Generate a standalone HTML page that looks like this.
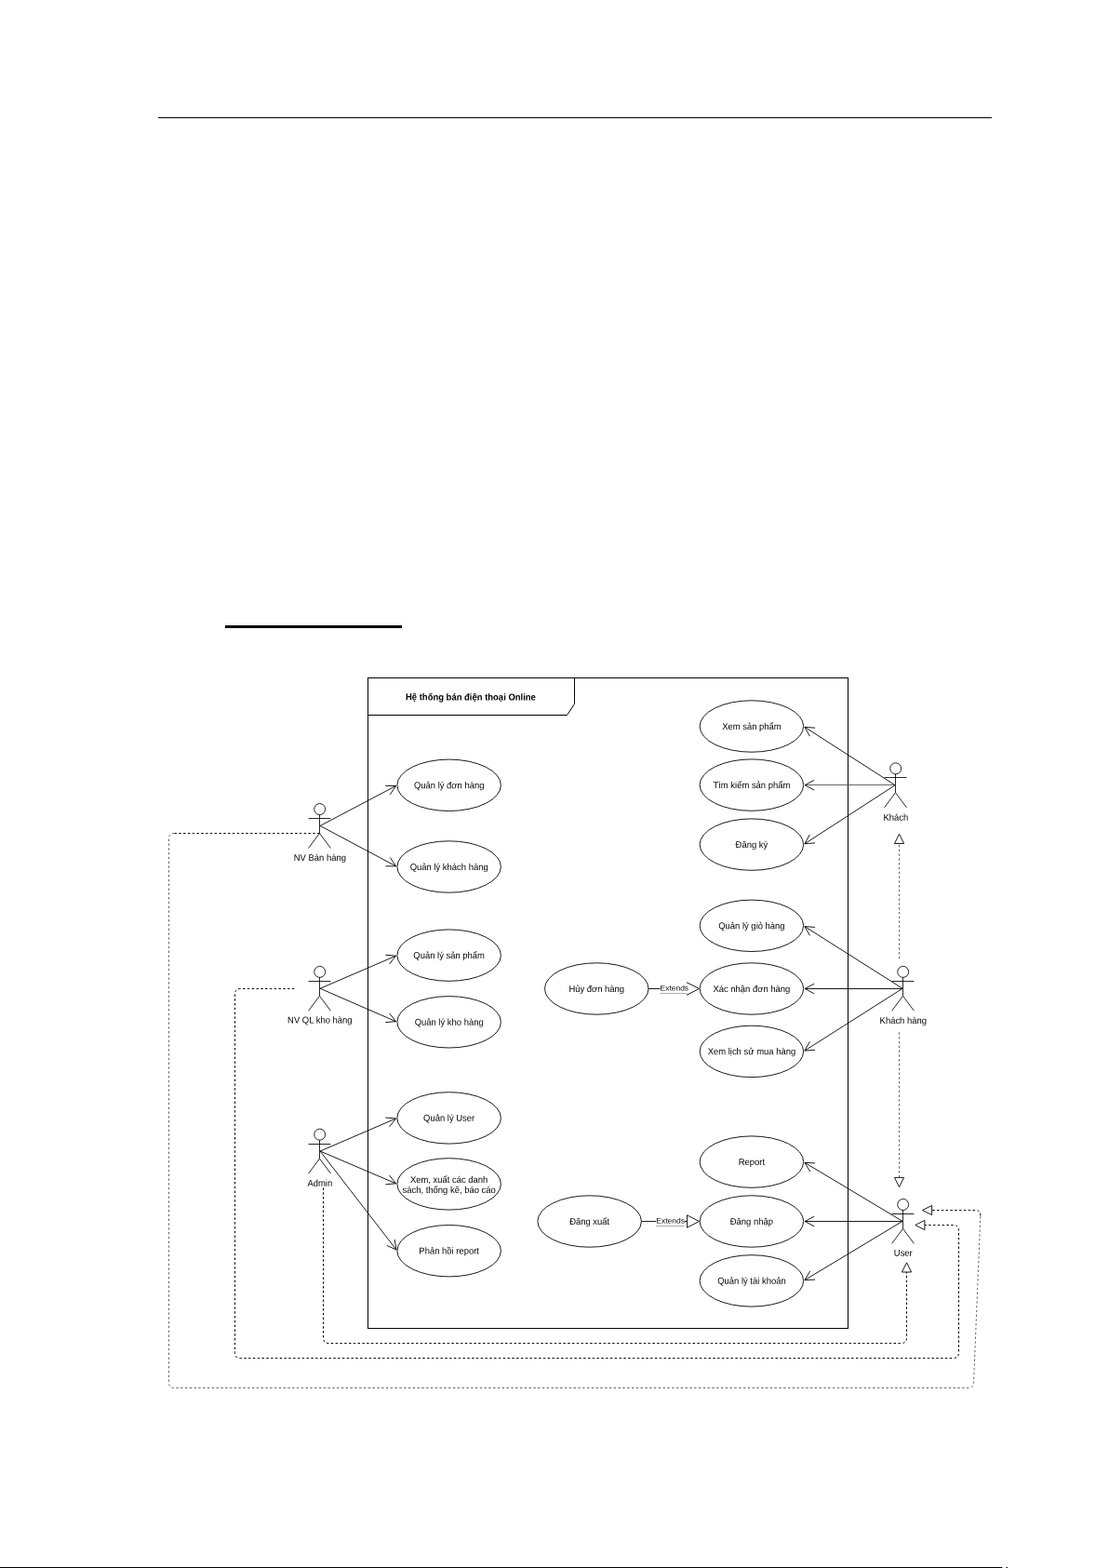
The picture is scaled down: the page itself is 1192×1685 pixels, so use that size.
<!DOCTYPE html>
<html lang="vi">
<head>
<meta charset="utf-8">
<title>Use case - Hệ thống bán điện thoại Online</title>
<style>
html,body{margin:0;padding:0;background:#fff;}
body{width:1192px;height:1685px;position:relative;overflow:hidden;font-family:"Liberation Sans",sans-serif;}
.hr{position:absolute;left:170px;top:126px;width:896px;height:1px;background:#000;}
.ul{position:absolute;left:242px;top:672px;width:190px;height:3px;background:#000;}
.ft{position:absolute;left:0;top:1684px;width:1077px;height:1px;background:#000;}
.px{position:absolute;top:1684px;width:1px;height:1px;}
svg{position:absolute;left:0;top:0;will-change:transform;}
.ln{fill:none;stroke:#000;stroke-width:0.9;stroke-linejoin:miter;stroke-miterlimit:10;}
.fr{stroke-width:1;}
.g{stroke:#555;}
.ac{fill:none;stroke:#000;stroke-width:0.85;}
.w{fill:#fff;}
.gl{fill:none;stroke:#999;stroke-width:0.8;}
.ds{fill:none;stroke:#000;stroke-width:1;stroke-dasharray:2.4 2.4;}
.lt{stroke-width:0.9;stroke:#555;}
.t{font-family:"Liberation Sans",sans-serif;font-size:10.0px;fill:#000;text-anchor:middle;}
.b{font-weight:bold;font-size:10.2px;}
.s{font-size:8.0px;}
</style>
</head>
<body>
<div class="hr"></div>
<div class="ul"></div>
<svg width="1192" height="1685" viewBox="0 0 1192 1685">
<rect x="395.5" y="728.5" width="516" height="699" class="ln fr" />
<path d="M617.5 728.5 L617.5 756.5 L609.5 768.5 L395.5 768.5" class="ln fr" />
<text transform="translate(505.9 752.4) rotate(0.03) scale(0.93 1)" class="t b">Hệ thống bán điện thoại Online</text>
<ellipse cx="482.65" cy="843.8" rx="55.75" ry="27.7" class="ln w" />
<text transform="translate(482.65 847.2) rotate(0.03) scale(0.945 1)" class="t">Quản lý đơn hàng</text>
<ellipse cx="482.65" cy="931.5" rx="55.75" ry="27.7" class="ln w" />
<text transform="translate(482.65 934.9) rotate(0.03) scale(0.945 1)" class="t">Quản lý khách hàng</text>
<ellipse cx="482.65" cy="1026.6" rx="55.75" ry="27.7" class="ln w" />
<text transform="translate(482.65 1030) rotate(0.03) scale(0.945 1)" class="t">Quản lý sản phẩm</text>
<ellipse cx="482.65" cy="1098.3" rx="55.75" ry="27.7" class="ln w" />
<text transform="translate(482.65 1101.7) rotate(0.03) scale(0.945 1)" class="t">Quản lý kho hàng</text>
<ellipse cx="482.65" cy="1201.4" rx="55.75" ry="27.7" class="ln w" />
<text transform="translate(482.65 1204.8) rotate(0.03) scale(0.945 1)" class="t">Quản lý User</text>
<ellipse cx="482.65" cy="1272.4" rx="55.75" ry="27.7" class="ln w" />
<text transform="translate(482.65 1270.9) rotate(0.03) scale(0.945 1)" class="t">Xem, xuất các danh</text>
<text transform="translate(482.65 1282) rotate(0.03) scale(0.945 1)" class="t">sách, thống kê, báo cáo</text>
<ellipse cx="482.65" cy="1344.2" rx="55.75" ry="27.7" class="ln w" />
<text transform="translate(482.65 1347.6) rotate(0.03) scale(0.945 1)" class="t">Phản hồi report</text>
<ellipse cx="807.9" cy="780.5" rx="55.75" ry="27.7" class="ln w" />
<text transform="translate(807.9 783.9) rotate(0.03) scale(0.945 1)" class="t">Xem sản phẩm</text>
<ellipse cx="807.9" cy="843.6" rx="55.75" ry="27.7" class="ln w" />
<text transform="translate(807.9 847) rotate(0.03) scale(0.945 1)" class="t">Tìm kiếm sản phẩm</text>
<ellipse cx="807.9" cy="907.6" rx="55.75" ry="27.7" class="ln w" />
<text transform="translate(807.9 911) rotate(0.03) scale(0.945 1)" class="t">Đăng ký</text>
<ellipse cx="807.9" cy="994.8" rx="55.75" ry="27.7" class="ln w" />
<text transform="translate(807.9 998.2) rotate(0.03) scale(0.945 1)" class="t">Quản lý giỏ hàng</text>
<ellipse cx="807.9" cy="1062.5" rx="55.75" ry="27.7" class="ln w" />
<text transform="translate(807.9 1065.9) rotate(0.03) scale(0.945 1)" class="t">Xác nhận đơn hàng</text>
<ellipse cx="807.9" cy="1129.9" rx="55.75" ry="27.7" class="ln w" />
<text transform="translate(807.9 1133.3) rotate(0.03) scale(0.945 1)" class="t">Xem lịch sử mua hàng</text>
<ellipse cx="807.9" cy="1248.6" rx="55.75" ry="27.7" class="ln w" />
<text transform="translate(807.9 1252) rotate(0.03) scale(0.945 1)" class="t">Report</text>
<ellipse cx="807.9" cy="1312.5" rx="55.75" ry="27.7" class="ln w" />
<text transform="translate(807.9 1315.9) rotate(0.03) scale(0.945 1)" class="t">Đăng nhập</text>
<ellipse cx="807.9" cy="1376.4" rx="55.75" ry="27.7" class="ln w" />
<text transform="translate(807.9 1379.8) rotate(0.03) scale(0.945 1)" class="t">Quản lý tài khoản</text>
<ellipse cx="641.25" cy="1062.5" rx="55.75" ry="27.7" class="ln w" />
<text transform="translate(641.25 1065.9) rotate(0.03) scale(0.945 1)" class="t">Hủy đơn hàng</text>
<ellipse cx="633.65" cy="1312.5" rx="55.75" ry="27.7" class="ln w" />
<text transform="translate(633.65 1315.9) rotate(0.03) scale(0.945 1)" class="t">Đăng xuất</text>
<path d="M344.1 887.45 L425.57 844.5" class="ln" />
<path d="M414.34 844.43 L425.57 844.5 L419.29 853.8" class="ln" />
<path d="M344.1 887.45 L425.58 930.8" class="ln" />
<path d="M419.32 921.47 L425.58 930.8 L414.35 930.82" class="ln" />
<path d="M344.1 1062.25 L425.52 1027.19" class="ln" />
<path d="M414.33 1026.24 L425.52 1027.19 L418.53 1035.98" class="ln" />
<path d="M344.1 1062.25 L425.52 1097.7" class="ln" />
<path d="M418.56 1088.89 L425.52 1097.7 L414.33 1098.61" class="ln" />
<path d="M344.1 1237.05 L425.52 1201.99" class="ln" />
<path d="M414.33 1201.04 L425.52 1201.99 L418.53 1210.78" class="ln" />
<path d="M344.1 1237.05 L425.52 1271.81" class="ln" />
<path d="M418.5 1263.05 L425.52 1271.81 L414.33 1272.8" class="ln" />
<path d="M344.1 1237.05 L425.98 1343.01" class="ln" />
<path d="M424.12 1331.94 L425.98 1343.01 L415.74 1338.42" class="ln" />
<path d="M962.1 843.75 L864.91 781.31" class="ln" />
<path d="M870.38 791.12 L864.91 781.31 L876.11 782.2" class="ln" />
<path d="M962.1 843.5 L865.15 843.5" class="ln g" />
<path d="M875.05 838.4 L865.15 843.7 L875.05 849" class="ln" />
<path d="M962.1 843.75 L864.91 906.78" class="ln" />
<path d="M876.1 905.84 L864.91 906.78 L870.33 896.95" class="ln" />
<path d="M970.1 1062.25 L864.92 995.6" class="ln" />
<path d="M870.44 1005.38 L864.92 995.6 L876.12 996.42" class="ln" />
<path d="M970.1 1062.5 L865.15 1062.5" class="ln" />
<path d="M875.05 1067.8 L865.15 1062.5 L875.05 1057.2" class="ln" />
<path d="M970.1 1062.25 L864.92 1129.1" class="ln" />
<path d="M876.11 1128.26 L864.92 1129.1 L870.43 1119.31" class="ln" />
<path d="M970.1 1312.35 L864.94 1249.37" class="ln" />
<path d="M870.71 1259 L864.94 1249.37 L876.15 1249.91" class="ln" />
<path d="M970.1 1312.5 L865.15 1312.5" class="ln" />
<path d="M875.05 1317.8 L865.15 1312.5 L875.05 1307.2" class="ln" />
<path d="M970.1 1312.35 L864.94 1375.63" class="ln" />
<path d="M876.15 1375.06 L864.94 1375.63 L870.69 1365.98" class="ln" />
<ellipse cx="343.7" cy="869.55" rx="5.95" ry="6" class="ac w" />
<path d="M343.5 875.45 L343.5 895.45 M331.59 879.5 L355.41 879.5 M331.59 911.45 L343.5 895.45 L355.41 911.45" class="ac" />
<text transform="translate(343.8 925.1) rotate(0.03) scale(0.945 1)" class="t">NV Bán hàng</text>
<ellipse cx="343.7" cy="1044.35" rx="5.95" ry="6" class="ac w" />
<path d="M343.5 1050.25 L343.5 1070.25 M331.59 1054.5 L355.41 1054.5 M331.59 1086.25 L343.5 1070.25 L355.41 1086.25" class="ac" />
<text transform="translate(343.8 1099.5) rotate(0.03) scale(0.945 1)" class="t">NV QL kho hàng</text>
<ellipse cx="343.7" cy="1219.15" rx="5.95" ry="6" class="ac w" />
<path d="M343.5 1225.05 L343.5 1245.05 M331.59 1229.5 L355.41 1229.5 M331.59 1261.05 L343.5 1245.05 L355.41 1261.05" class="ac" />
<text transform="translate(343.8 1274.8) rotate(0.03) scale(0.945 1)" class="t">Admin</text>
<ellipse cx="962.7" cy="825.85" rx="5.95" ry="6" class="ac w" />
<path d="M962.5 831.75 L962.5 851.75 M950.59 835.5 L974.41 835.5 M950.59 867.75 L962.5 851.75 L974.41 867.75" class="ac" />
<text transform="translate(962.8 881.7) rotate(0.03) scale(0.945 1)" class="t">Khách</text>
<ellipse cx="970.7" cy="1044.35" rx="5.95" ry="6" class="ac w" />
<path d="M970.5 1050.25 L970.5 1070.25 M958.59 1054.5 L982.41 1054.5 M958.59 1086.25 L970.5 1070.25 L982.41 1086.25" class="ac" />
<text transform="translate(970.8 1100.1) rotate(0.03) scale(0.945 1)" class="t">Khách hàng</text>
<ellipse cx="970.7" cy="1294.45" rx="5.95" ry="6" class="ac w" />
<path d="M970.5 1300.35 L970.5 1320.35 M958.59 1304.5 L982.41 1304.5 M958.59 1336.35 L970.5 1320.35 L982.41 1336.35" class="ac" />
<text transform="translate(970.8 1349.8) rotate(0.03) scale(0.945 1)" class="t">User</text>
<path d="M697 1062.5 L709.3 1062.5" class="ln" />
<path d="M738 1055.7 L751.55 1062.5 L738 1069.3" class="ln" />
<path d="M709.2 1067.5 L738.4 1067.5" class="gl" />
<text transform="translate(724.8 1064.6) rotate(0.03) scale(1.06 1)" class="t s">Extends</text>
<path d="M689.4 1312.5 L705.1 1312.5 M735.9 1312.5 L738.5 1312.5" class="ln" />
<path d="M751.55 1312.5 L738.5 1305.8 L738.5 1319.2 Z" class="ln w" />
<path d="M705 1317.5 L735.6 1317.5" class="gl" />
<text transform="translate(720.6 1314.6) rotate(0.03) scale(1.06 1)" class="t s">Extends</text>
<path d="M966.5 896.4 L971.6 906.5 L961.4 906.5 Z" class="ln w" />
<path d="M966.5 1030.3 L966.5 906.5" class="ds lt" />
<path d="M966.5 1275.5 L961.4 1265.4 L971.6 1265.4 Z" class="ln w" />
<path d="M966.5 1109.3 L966.5 1265.4" class="ds lt" />
<path d="M974.5 1356.9 L979.6 1367 L969.4 1367 Z" class="ln w" />
<path d="M347.5 1276.5 L347.5 1437.5 Q347.5 1443.5 353.5 1443.5 L968.5 1443.5 Q974.5 1443.5 974.5 1437.5 L974.5 1367" class="ds" />
<path d="M983.8 1316.5 L993.9 1311.4 L993.9 1321.6 Z" class="ln w" />
<path d="M316.3 1062.5 L258.5 1062.5 Q252.5 1062.5 252.5 1068.5 L252.5 1453.5 Q252.5 1459.5 258.5 1459.5 L1024.5 1459.5 Q1030.5 1459.5 1030.5 1453.5 L1030.5 1322.5 Q1030.5 1316.5 1024.5 1316.5 L993.9 1316.5" class="ds" />
<path d="M991.5 1300.5 L1001.6 1295.4 L1001.6 1305.6 Z" class="ln w" />
<path d="M343.5 895.5 L187.5 895.5" class="ds" />
<path d="M187.5 895.5 Q181.5 895.5 181.5 901.5 L181.5 1485.5 Q181.5 1491.5 187.5 1491.5 L1040.3 1491.5 Q1046.3 1491.5 1046.55 1485.5 L1053.85 1306.5" class="ds lt" />
<path d="M1053.85 1306.5 Q1054.1 1300.5 1048.1 1300.5 L1001.6 1300.5" class="ds" />
</svg>
<div class="ft"></div>
<div class="px" style="left:1077px;background:#0ff"></div>
<div class="px" style="left:1081px;background:#f30"></div>
<div class="px" style="left:1082px;background:#00f"></div>
</body>
</html>
